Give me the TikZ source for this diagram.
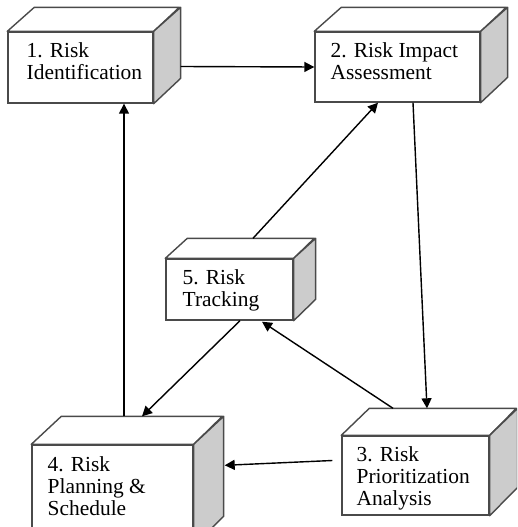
\documentclass[tikz,border=0pt]{standalone}
\usepackage{fontspec}
\setmainfont{Liberation Serif}
\usetikzlibrary{arrows.meta, calc}
\definecolor{edgegray}{HTML}{4A4A4A}
\definecolor{sidegray}{HTML}{CCCCCC}

\begin{document}
\begin{tikzpicture}[x=0.02cm, y=-0.02cm]
      \tikzset{
        front/.style={draw=edgegray, fill=white, inner sep=0pt, line width=0.8pt},
        topface/.style={draw=edgegray, fill=white, line width=0.8pt, line join=round},
        sideface/.style={draw=edgegray, fill=sidegray, line width=0.8pt, line join=round},
        boxtext/.style={anchor=north west, align=left, inner sep=0pt, font=\fontsize{12.2}{12.6}\selectfont},
        flow/.style={-{Triangle[length=0.2cm, width=0.2cm]}, black, line width=0.8pt}
      }
      \useasboundingbox (0, 0) rectangle (517, 527);
      \clip (0, 0) rectangle (517, 527);

      \node[front, minimum width=2.9cm, minimum height=1.42cm] (f1) at (80.5, 67.5) {};
      \draw[topface] (f1.north west) -- ++(27, -24) -- ++(145, 0) -- (f1.north east) -- cycle;
      \draw[sideface] (f1.north east) -- ++(27, -24) -- ++(0, 71) -- (f1.south east) -- cycle;
      \node[boxtext] (t1) at ($(f1.north west)+(19, 11)$) {1. Risk\\Identification};

      \node[front, minimum width=3.3cm, minimum height=1.4cm] (f2) at (397.5, 67) {};
      \draw[topface] (f2.north west) -- ++(27, -24) -- ++(165, 0) -- (f2.north east) -- cycle;
      \draw[sideface] (f2.north east) -- ++(27, -24) -- ++(0, 70) -- (f2.south east) -- cycle;
      \node[boxtext] (t2) at ($(f2.north west)+(16, 11)$) {2. Risk Impact\\Assessment};

      \node[front, minimum width=2.94cm, minimum height=1.58cm] (f3) at (415.5, 475.5) {};
      \draw[topface] (f3.north west) -- ++(28, -27) -- ++(147, 0) -- (f3.north east) -- cycle;
      \draw[sideface] (f3.north east) -- ++(28, -27) -- ++(0, 79) -- (f3.south east) -- cycle;
      \node[boxtext] (t3) at ($(f3.north west)+(15, 11)$) {3. Risk\\Prioritization\\Analysis};

      \node[front, minimum width=3.22cm, minimum height=2cm] (f4) at (112.5, 495) {};
      \draw[topface] (f4.north west) -- ++(30, -28) -- ++(161, 0) -- (f4.north east) -- cycle;
      \draw[sideface] (f4.north east) -- ++(30, -28) -- ++(0, 100) -- (f4.south east) -- cycle;
      \node[boxtext] (t4) at ($(f4.north west)+(16, 12)$) {4. Risk\\Planning \&\\Schedule};

      \node[front, minimum width=2.54cm, minimum height=1.22cm] (f5) at (229.5, 289.5) {};
      \draw[topface] (f5.north west) -- ++(22, -20) -- ++(127, 0) -- (f5.north east) -- cycle;
      \draw[sideface] (f5.north east) -- ++(22, -20) -- ++(0, 61) -- (f5.south east) -- cycle;
      \node[boxtext] (t5) at ($(f5.north west)+(17, 11)$) {5. Risk\\Tracking};

      \draw[flow] ($(f1.east)+(27, -1)$) -- (f2.west);
      \draw[flow] ($(f2.south)+(15.5, 0)$) -- ($(f3.north)+(11.5, -27)$);
      \draw[flow] ($(f3.north)+(-22.5, -27)$) -- ($(f5.south)+(32.5, 1)$);
      \draw[flow] ($(f3.west)+(-9, -15)$) -- ($(f4.north east)+(31, 21)$);
      \draw[flow] ($(f5.south)+(10.5, 0)$) -- ($(f4.north)+(29.5, -28)$);
      \draw[flow] ($(f4.north)+(11.5, -28)$) -- ($(f1.south)+(43.5, 0)$);
      \draw[flow] ($(f5.north)+(23.5, -20)$) -- ($(f2.south)+(-19.5, 0)$);

    \end{tikzpicture}
\end{document}
